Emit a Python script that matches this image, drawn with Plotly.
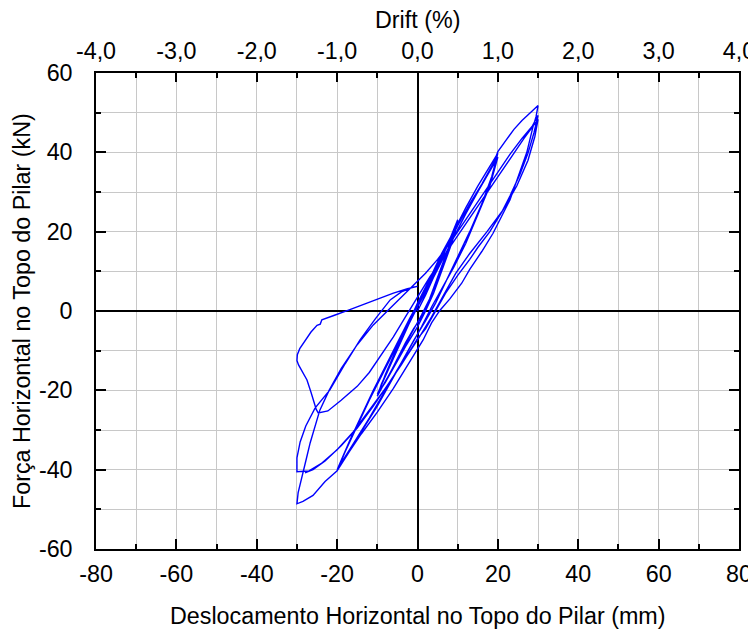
import plotly.graph_objects as go

# Hysteresis path: horizontal displacement (mm) and horizontal force (kN)
displacement_mm = [
    0, 2, 4, 6, 8, 10,
    9, 7, 5, 3, 1, -1, -3, -5, -7, -9, -10,
    -9, -7, -5, -3, -1, 1, 3, 5, 7, 9, 10,
    8.5, 6, 4, 2, 0, -3, -6, -8, -10,
    -8, -6, -4, -2, 0, 3, 6, 8, 10,
    8, 5, 3, 1, -2, -5, -8, -10,
    -8, -5, -2, 0, 3, 6, 9, 12, 15, 18, 20,
    18.5, 16, 13, 10, 7, 4.5, 2, -1, -4, -8, -12, -16, -18.5, -20,
    -18, -15, -12, -9, -6, -3, 0, 3, 6, 9, 12, 15, 18, 20,
    18, 15, 12, 9, 6, 3.5, 1, -2, -6, -10, -14, -17.5, -20,
    -17, -14, -11, -8, -5, -2, 1, 4, 7, 10, 13, 16, 19,
    20, 22, 24, 26, 28, 30,
    29.5, 28.7, 27.2, 25, 23, 20.5, 18.8, 16, 13, 11, 8, 5.6, 3.5, 1.4, -2, -6, -10, -14, -17, -20,
    -23, -26, -28.5, -30,
    -29.7, -28.7, -27.6, -26.7, -25.5, -24.3, -22, -19, -15, -11, -7, -4, -1, 2, 5, 8, 11, 14, 17, 20, 23, 26, 28.5, 30,
    29, 27.5, 25.5, 23, 21, 18, 15, 13, 10, 7, 4.5, 2, 0, -4, -8, -12, -16, -20, -24, -27, -30,
    -30, -29.2, -27.8, -25.5, -21.8, -18, -14.3, -10.5, -6.8, -4, -1.1, 0,
    -2.5, -6, -9.3, -13, -17, -21, -23.8, -24.2, -25, -26.5, -28, -29.3, -29.9, -30, -29.6, -28.8, -27.5, -26.5, -25.8, -25.2, -24.7,
    -22.3, -19, -15, -12, -9, -6, -3, 0, 3, 7, 11, 15, 19, 23, 26.5, 30,
    29.2, 27.5, 24.7, 21.3, 17.3, 13, 9.5, 6.5, 3.5, 0.5, -3, -7, -11, -15, -19, -23, -26, -28,
]
force_kN = [
    0, 4, 8.5, 13, 18, 23,
    19.5, 14, 8, 3, -1.5, -4.5, -8, -12, -16, -19.5, -21.5,
    -18.5, -14, -9.5, -5, -1, 3, 7, 11.5, 15.5, 19.5, 22.2,
    17, 10, 4.5, 0, -4, -9, -14.5, -18, -21,
    -16.5, -12, -7.5, -3, 1.5, 7.5, 14, 18, 22,
    16, 8, 3, -1, -6.5, -12, -17.5, -21.5,
    -16, -9, -2.5, 2, 8, 14.5, 20, 26, 31.5, 36.5, 39.8,
    34, 27, 20, 13.5, 7, 2, -2.5, -7.5, -13, -20, -27, -33.5, -37.5, -40.3,
    -35.5, -29, -22.5, -16.5, -10.5, -4.5, 1, 6.5, 12.5, 18.5, 24.5, 30, 35.5, 38.8,
    31.5, 24, 17, 11, 5.5, 1, -4, -9.5, -17, -24, -30.5, -36, -40,
    -33, -26.5, -20, -14, -8, -2, 3.5, 9.5, 15.5, 21.5, 27, 32, 37.5,
    40.2, 43, 45.8, 48, 50, 51.8,
    49, 46.3, 40, 34, 28, 23, 19.6, 15, 10.5, 7, 3, 0.2, -3, -7.3, -13, -19.5, -25.5, -31, -35.5, -40.3,
    -43, -46.5, -48, -48.6,
    -45.8, -41.3, -37, -33.2, -29, -25, -20, -14.5, -8.5, -3.5, 0.5, 3.5, 6.5, 9.5, 13, 17, 21.5, 26, 30.5, 35, 39.5, 43.5, 46.5, 49.3,
    45, 39.8, 34.5, 29, 25, 20, 16, 13, 9, 4.5, 0, -4.5, -7, -13.5, -19.5, -25, -30.5, -35, -38.5, -40.3, -40.5,
    -37, -33, -29, -24.5, -19.9, -13.3, -7.3, -2, 2.8, 4.8, 6, 6.2,
    5.6, 4.5, 3.3, 1.8, 0.3, -1.2, -2.2, -3.3, -3.6, -5.3, -7.5, -9.5, -11, -12.5, -13.6, -15, -17.4, -20.5, -23, -24.8, -25.7,
    -25.2, -22.5, -19, -15.5, -11, -6.5, -1.5, 3.5, 8.5, 14.5, 20.5, 26.5, 32.5, 38.5, 43.5, 48.3,
    44, 38, 31.5, 25.5, 20, 14.5, 9.5, 4, -1.5, -6.5, -12, -18, -24, -29.5, -34, -37.8, -40, -40.8,
]

x_ticks = [-80, -60, -40, -20, 0, 20, 40, 60, 80]
x_labels = ["-80", "-60", "-40", "-20", "0", "20", "40", "60", "80"]
y_ticks = [-60, -40, -20, 0, 20, 40, 60]
y_labels = ["-60", "-40", "-20", "0", "20", "40", "60"]
drift_ticks = [-4, -3, -2, -1, 0, 1, 2, 3, 4]
drift_labels = ["-4,0", "-3,0", "-2,0", "-1,0", "0,0", "1,0", "2,0", "3,0", "4,0"]

FONT = "Liberation Sans, Arial, sans-serif"
GRID = "#c8c8c8"
FS = 23.3

fig = go.Figure()
fig.add_trace(go.Scatter(
    x=displacement_mm, y=force_kN, mode="lines",
    line=dict(color="#0000ff", width=1.4), showlegend=False, hoverinfo="skip",
))
# invisible trace to activate top drift axis
fig.add_trace(go.Scatter(
    x=[drift_ticks[0], drift_ticks[-1]], y=[None, None], xaxis="x2", mode="lines",
    showlegend=False, hoverinfo="skip",
))

fig.update_layout(
    width=748, height=621,
    margin=dict(l=88, r=17, t=65, b=80, autoexpand=False),
    paper_bgcolor="white", plot_bgcolor="white",
    font=dict(family=FONT, size=FS, color="black"),
    xaxis=dict(
        range=[-80, 80], tickvals=x_ticks, ticktext=x_labels, ticks="inside", ticklen=10, tickwidth=1.5,
        tickcolor="black", showline=True, linecolor="black", linewidth=1.5, mirror=True,
        showgrid=True, gridcolor=GRID, gridwidth=1,
        zeroline=True, zerolinecolor="black", zerolinewidth=1.5,
        minor=dict(dtick=10, ticks="inside", ticklen=5, tickcolor="black", showgrid=True, gridcolor=GRID),
        ticklabelstandoff=3, automargin=False, ticklabeloverflow="allow",
        tickfont=dict(size=FS),
    ),
    xaxis2=dict(
        overlaying="x", side="top", range=[-4, 4], tickvals=drift_ticks, ticktext=drift_labels,
        ticks="inside", ticklen=9, tickwidth=1.5, tickcolor="black", showgrid=False, zeroline=False,
        minor=dict(dtick=0.5, ticks="inside", ticklen=5, tickcolor="black", showgrid=False),
        showline=True, linecolor="black", linewidth=1.5,
        ticklabelstandoff=3, automargin=False, ticklabeloverflow="allow", tickfont=dict(size=FS),
    ),
    yaxis=dict(
        range=[-60, 60], tickvals=y_ticks, ticktext=y_labels, ticks="inside", ticklen=10, tickwidth=1.5,
        tickcolor="black", showline=True, linecolor="black", linewidth=1.5, mirror="ticks",
        showgrid=True, gridcolor=GRID, gridwidth=1,
        zeroline=True, zerolinecolor="black", zerolinewidth=1.5,
        minor=dict(dtick=10, ticks="inside", ticklen=5, tickcolor="black", showgrid=True, gridcolor=GRID),
        ticklabelstandoff=17, automargin=False, ticklabeloverflow="allow",
        tickfont=dict(size=FS),
    ),
    annotations=[
        dict(text="Deslocamento Horizontal no Topo do Pilar (mm)", xref="paper", yref="paper",
             x=0.5, y=0, yshift=-67, showarrow=False, font=dict(size=FS), yanchor="middle"),
        dict(text="Força Horizontal no Topo do Pilar (kN)", xref="paper", yref="paper",
             x=0, xshift=-74, y=0.5, textangle=-90, showarrow=False, font=dict(size=FS), xanchor="center"),
        dict(text="Drift (%)", xref="paper", yref="paper",
             x=0.5, y=1, yshift=53, showarrow=False, font=dict(size=FS), yanchor="middle"),
    ],
)

fig.write_html("out.html")
